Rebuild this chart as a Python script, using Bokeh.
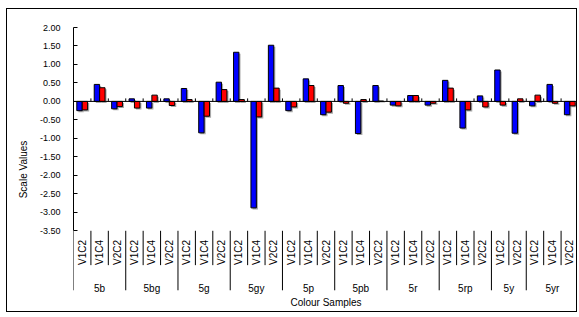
import math
from bokeh.plotting import figure
from bokeh.models import (ColumnDataSource, FactorRange, Range1d, LinearAxis,
                          SingleIntervalTicker, NumeralTickFormatter, Span)
from bokeh.transform import dodge
from bokeh.core.properties import value
from bokeh.embed import file_html
from bokeh.resources import INLINE

# ---------------- data ----------------
groups = ["5b", "5bg", "5g", "5gy", "5p", "5pb", "5r", "5rp", "5y", "5yr"]
subs = {
    "5b": ["V1C2", "V1C4", "V2C2"],
    "5bg": ["V1C2", "V1C4", "V2C2"],
    "5g": ["V1C2", "V1C4", "V2C2"],
    "5gy": ["V1C2", "V1C4", "V2C2"],
    "5p": ["V1C2", "V1C4", "V2C2"],
    "5pb": ["V1C2", "V1C4", "V2C2"],
    "5r": ["V1C2", "V1C4", "V2C2"],
    "5rp": ["V1C2", "V1C4", "V2C2"],
    "5y": ["V1C2", "V2C2"],
    "5yr": ["V1C2", "V1C4", "V2C2"],
}
blue_values = [-0.25, 0.46, -0.20,
               0.07, -0.18, 0.07,
               0.35, -0.85, 0.52,
               1.33, -2.88, 1.52,
               -0.25, 0.61, -0.36,
               0.43, -0.87, 0.43,
               -0.10, 0.16, -0.10,
               0.57, -0.72, 0.15,
               0.85, -0.86,
               -0.12, 0.46, -0.36]
red_values = [-0.23, 0.37, -0.14,
              -0.18, 0.17, -0.11,
              0.05, -0.40, 0.32,
              0.05, -0.42, 0.36,
              -0.15, 0.43, -0.29,
              -0.05, 0.05, 0.01,
              -0.12, 0.16, -0.05,
              0.36, -0.23, -0.15,
              -0.10, 0.07,
              0.17, -0.05, -0.12]
y_min, y_max, y_step = -3.5, 2.0, 0.5
x_title = "Colour Samples"
y_title = "Scale Values"

# ---------------- layout / style ----------------
FONT = "Liberation Sans"
factors = [(g, s) for g in groups for s in subs[g]]
first_in_group = [i == 0 or factors[i - 1][0] != factors[i][0] for i in range(len(factors))]

PX_PER_UNIT = 36.7
SUB_LABEL_TOP = y_min - 0.25
SUB_SEP_END = y_min - 0.93
GROUP_SEP_END = y_min - 1.61
GROUP_LABEL_Y = y_min - 1.56
TITLE_Y = y_min - 1.95
TICK_UP = 3.0 / PX_PER_UNIT
SHADOW = 1.5 / PX_PER_UNIT

p = figure(width=569, height=302,
           x_range=FactorRange(*factors, factor_padding=0, group_padding=0,
                               subgroup_padding=0, range_padding=0),
           y_range=Range1d(y_max - 282 / PX_PER_UNIT, y_max),
           x_axis_location=None, y_axis_location=None,
           toolbar_location=None, output_backend="svg",
           min_border_left=66, min_border_right=0, min_border_top=18,
           min_border_bottom=2, outline_line_color=None)
p.styles = {"border": "1px solid black", "box-sizing": "content-box",
            "margin-left": "6px", "margin-top": "8px"}
for g in p.grid:
    g.visible = False

yaxis = LinearAxis(bounds=(y_min, y_max),
                   ticker=SingleIntervalTicker(interval=y_step, num_minor_ticks=0),
                   formatter=NumeralTickFormatter(format="0.00"),
                   axis_label=y_title)
yaxis.major_tick_in = 4
yaxis.major_tick_out = 0
yaxis.minor_tick_line_color = None
yaxis.axis_line_color = "black"
yaxis.major_tick_line_color = "black"
yaxis.major_label_text_font = FONT
yaxis.major_label_text_font_size = "9px"
yaxis.major_label_text_color = "black"
yaxis.major_label_standoff = 13
yaxis.axis_label_text_font = FONT
yaxis.axis_label_text_font_size = "10px"
yaxis.axis_label_text_font_style = "normal"
yaxis.axis_label_text_color = "black"
yaxis.axis_label_standoff = 8
p.add_layout(yaxis, "left")

src = ColumnDataSource(dict(
    x=factors, blue=blue_values, red=red_values,
    blue_sh=[v - SHADOW for v in blue_values],
    red_sh=[v - SHADOW for v in red_values],
    sep_end=[GROUP_SEP_END if f else SUB_SEP_END for f in first_in_group],
    sub=[f[1] for f in factors],
))

BW = 0.31
# shadows
p.vbar(x=dodge("x", -BW / 2 + 0.09, range=p.x_range), top="blue_sh", bottom=-SHADOW,
       width=BW, fill_color="#a8a8a8", line_color=None, source=src)
p.vbar(x=dodge("x", BW / 2 + 0.09, range=p.x_range), top="red_sh", bottom=-SHADOW,
       width=BW, fill_color="#a8a8a8", line_color=None, source=src)
# bars
p.vbar(x=dodge("x", -BW / 2, range=p.x_range), top="blue", width=BW,
       fill_color="#0000FF", line_color="black", line_width=1, source=src)
p.vbar(x=dodge("x", BW / 2, range=p.x_range), top="red", width=BW,
       fill_color="#FF0000", line_color="black", line_width=1, source=src)

# zero line (category axis crossing)
p.add_layout(Span(location=0, dimension="width", line_color="black", line_width=1))
# category tick marks on the zero line
p.segment(x0=dodge("x", -0.5, range=p.x_range), y0=0,
          x1=dodge("x", -0.5, range=p.x_range), y1=TICK_UP,
          line_color="black", line_width=1, source=src)
last = ColumnDataSource(dict(x=[factors[-1]]))
p.segment(x0=dodge("x", 0.5, range=p.x_range), y0=0,
          x1=dodge("x", 0.5, range=p.x_range), y1=TICK_UP,
          line_color="black", line_width=1, source=last)

# category label separators below the plot
p.segment(x0=dodge("x", -0.5, range=p.x_range), y0=y_min,
          x1=dodge("x", -0.5, range=p.x_range), y1="sep_end",
          line_color="black", line_width=1, source=src)
p.segment(x0=dodge("x", 0.5, range=p.x_range), y0=y_min,
          x1=dodge("x", 0.5, range=p.x_range), y1=GROUP_SEP_END,
          line_color="black", line_width=1, source=last)

# sub-category labels
p.text(x="x", y=SUB_LABEL_TOP, text="sub", angle=math.pi / 2,
       text_align="right", text_baseline="middle",
       text_font=value(FONT), text_font_size="10px", text_color="black", source=src)
# group labels
gsrc = ColumnDataSource(dict(x=groups, text=groups))
p.text(x="x", y=GROUP_LABEL_Y, text="text", text_align="center", text_baseline="middle",
       text_font=value(FONT), text_font_size="10px", text_color="black", source=gsrc)
# x title
tsrc = ColumnDataSource(dict(x=[factors[len(factors) // 2]], text=[x_title]))
p.text(x="x", y=TITLE_Y, text="text", text_align="center", text_baseline="middle",
       text_font=value(FONT), text_font_size="10px", text_color="black", source=tsrc)

open("out.html", "w").write(file_html(p, INLINE))
